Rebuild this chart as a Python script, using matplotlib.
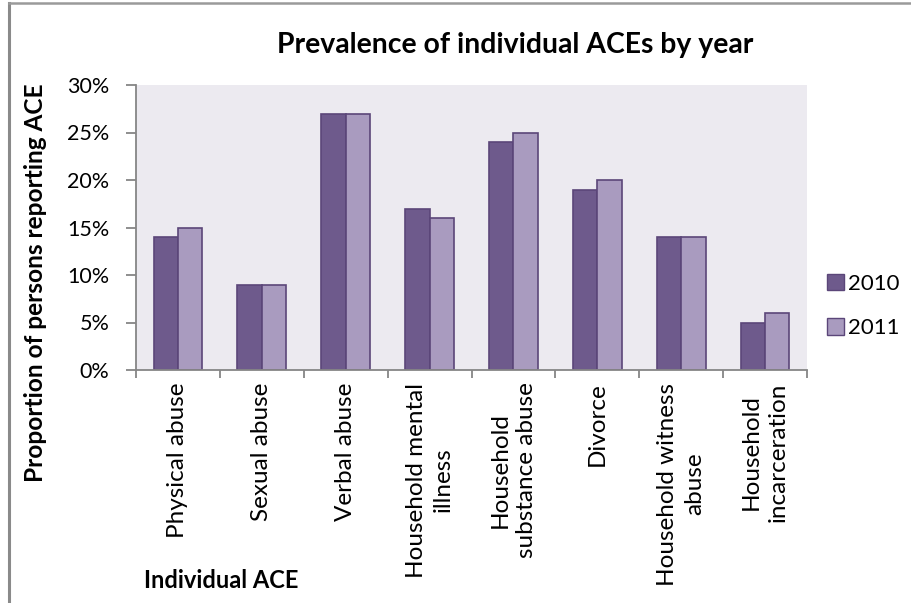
import numpy as np
import matplotlib
matplotlib.use("Agg")
import matplotlib.pyplot as plt
from matplotlib.patches import Patch
from matplotlib.lines import Line2D

plt.rcParams['font.family'] = ['Lato', 'DejaVu Sans']

categories = ['Physical abuse', 'Sexual abuse', 'Verbal abuse',
              'Household mental\nillness', 'Household\nsubstance abuse',
              'Divorce', 'Household witness\nabuse', 'Household\nincarceration']
vals_2010 = [14, 9, 27, 17, 24, 19, 14, 5]
vals_2011 = [15, 9, 27, 16, 25, 20, 14, 6]
series_names = ['2010', '2011']

c2010 = '#6E5A8C'
c2011 = '#A99BBF'
edge = '#5B4679'
axis_gray = '#868686'

fig = plt.figure(figsize=(9.12, 6.03), dpi=100)
ax = fig.add_axes([136/912, 1-370/603, (807-136)/912, (370-85)/603])
ax.set_facecolor('#ECEAF0')

x = np.arange(len(categories))
w = 0.29
ax.bar(x - w/2, vals_2010, w, color=c2010, edgecolor=edge, linewidth=1.2, label=series_names[0])
ax.bar(x + w/2, vals_2011, w, color=c2011, edgecolor=edge, linewidth=1.2, label=series_names[1])

ax.set_xlim(-0.5, len(categories) - 0.5)
ax.set_ylim(0, 30)
ax.set_yticks(np.arange(0, 31, 5))
ax.set_yticklabels(['%d%%' % v for v in range(0, 31, 5)], fontsize=15.5)

# category boundaries as ticks, labels in the middle
ax.set_xticks(np.arange(-0.5, len(categories)), minor=False)
ax.set_xticklabels([])
ax.set_xticks(x, minor=True)
ax.set_xticklabels(categories, minor=True, rotation=90, fontsize=17.5,
                   va='top', ha='center', multialignment='center', linespacing=1.35)
ax.tick_params(axis='x', which='minor', length=0, pad=9)
ax.tick_params(axis='x', which='major', length=6, color=axis_gray, width=1.3)
ax.tick_params(axis='y', length=7, color=axis_gray, width=1.3, pad=12)

for s in ['top', 'right']:
    ax.spines[s].set_visible(False)
for s in ['left', 'bottom']:
    ax.spines[s].set_color(axis_gray)
    ax.spines[s].set_linewidth(1.3)

fig.text(515/912, 1-45/603, 'Prevalence of individual ACEs by year',
         fontsize=20.4, fontweight='bold', ha='center', va='center')
fig.text(36/912, 1-283/603, 'Proportion of persons reporting ACE',
         fontsize=17.6, fontweight='bold', rotation=90, ha='center', va='center')
fig.text(221/912, 1-580/603, 'Individual ACE',
         fontsize=17, fontweight='bold', ha='center', va='center')

handles = [Patch(facecolor=c2010, edgecolor=edge), Patch(facecolor=c2011, edgecolor=edge)]
fig.legend(handles, series_names, loc='center left', bbox_to_anchor=(807/912, 1-306/603),
           frameon=False, fontsize=16, handlelength=0.75, handleheight=0.75,
           handletextpad=0.2, labelspacing=1.1)

# outer chart border (partially cropped)
fig.add_artist(Line2D([9/912, 9/912], [0, 1-3/603], color='#8A8A8A', linewidth=2.2))
fig.add_artist(Line2D([9/912, 1], [1-3/603, 1-3/603], color='#9A9A9A', linewidth=1.8))

fig.savefig('out.png', dpi=100)
